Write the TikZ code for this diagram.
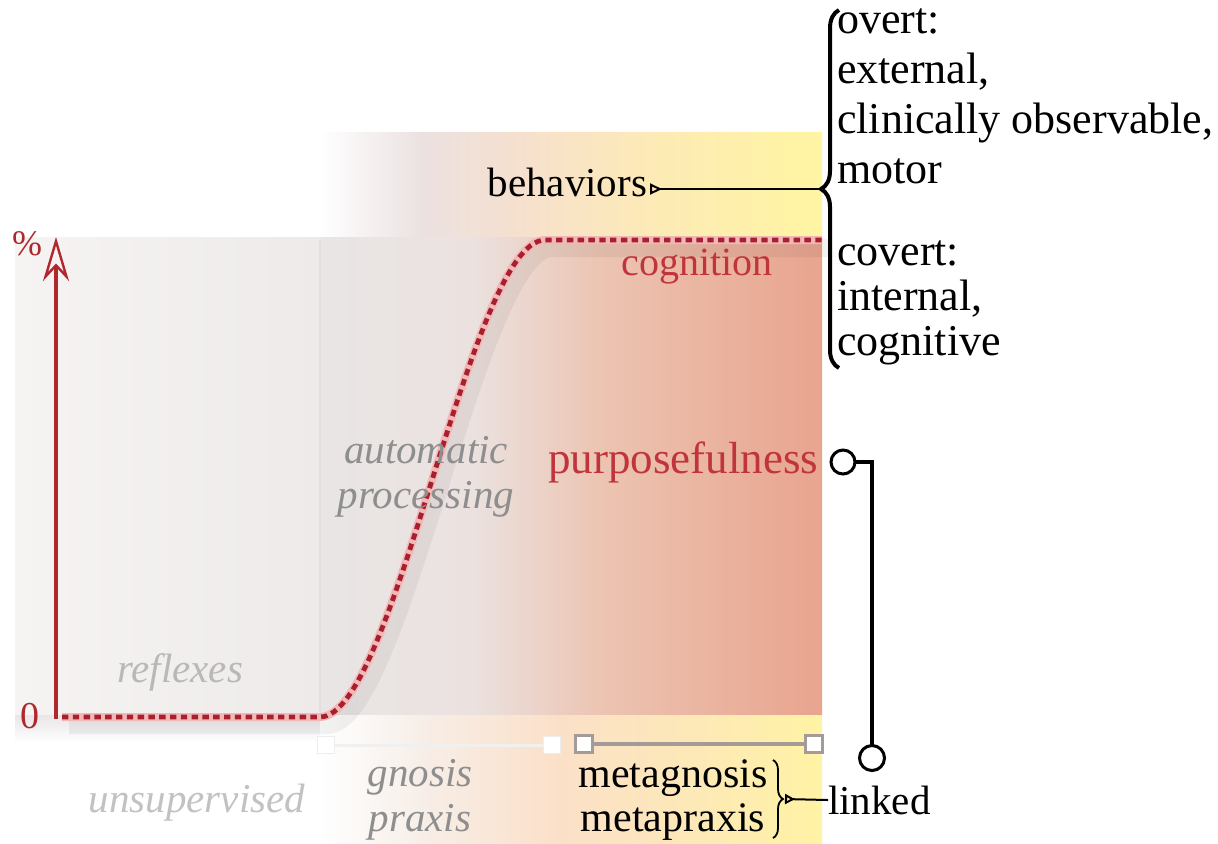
\documentclass[tikz,border=0pt]{standalone}
\usepackage{fontspec}
\setmainfont{Liberation Serif}
\usetikzlibrary{arrows.meta,decorations.pathreplacing,calc}
\definecolor{axisred}{HTML}{B0282E}
\definecolor{curvered}{HTML}{A8202E}
\definecolor{glowpink}{HTML}{F2B8B8}
\definecolor{txtred}{HTML}{C0343C}
\definecolor{grayit}{HTML}{8E8E8E}
\definecolor{lightit}{HTML}{B8B8B8}
\definecolor{slidergray}{HTML}{A39B98}
\begin{document}
\begin{tikzpicture}[x=0.5pt,y=-0.5pt,
  every node/.style={inner sep=0pt, outer sep=0pt},
  txt/.style={font=\fontsize{20.5}{24}\selectfont},
  grayital/.style={font=\fontsize{20.5}{22.5}\selectfont\itshape, text=grayit, align=center},
  redlbl/.style={font=\fontsize{20.5}{24}\selectfont, text=txtred},
  curvestroke/.style={line width=2.4pt, curvered, dash pattern=on 3.2pt off 2.2pt},
  curveglow/.style={line width=4pt, glowpink},
  curveshadow/.style={line width=9pt, black, opacity=0.05},
  connector/.style={line width=1pt, black},
  linkline/.style={line width=2.2pt, black},
  ring/.style={circle, draw=black, line width=1.5pt, fill=white, minimum size=12pt},
  wsq/.style={rectangle, fill=white, draw=white!93!black, line width=0.6pt, minimum size=8.5pt},
  gsq/.style={rectangle, fill=white, draw=slidergray, line width=1.1pt, minimum size=8.5pt},
  bigbrace/.style={decorate, decoration={brace, amplitude=9pt}, line width=2pt},
  smallbrace/.style={decorate, decoration={brace, amplitude=5pt}, line width=0.9pt}
]
\useasboundingbox (0,0) rectangle (1218,843);
\fill[white] (0,0) rectangle (1218,843);

% ---------- background bands ----------
% top band
\fill[left color=white, right color=white!92!black!96!red] (320,132) rectangle (421,237);
\fill[left color=white!92!black!96!red, right color={rgb,255:red,246;green,224;blue,206}] (420,132) rectangle (521,237);
\fill[left color={rgb,255:red,246;green,224;blue,206}, right color={rgb,255:red,253;green,234;blue,182}] (520,132) rectangle (651,237);
\fill[left color={rgb,255:red,253;green,234;blue,182}, right color={rgb,255:red,255;green,245;blue,162}] (650,132) rectangle (822,237);
% chart area
\fill[left color={rgb,255:red,246;green,243;blue,243}, right color={rgb,255:red,238;green,234;blue,234}] (15,237) rectangle (321,715);
\fill[left color={rgb,255:red,233;green,229;blue,229}, right color={rgb,255:red,235;green,226;blue,224}] (320,237) rectangle (471,715);
\fill[left color={rgb,255:red,235;green,226;blue,224}, right color={rgb,255:red,236;green,196;blue,178}] (470,237) rectangle (601,715);
\fill[left color={rgb,255:red,236;green,196;blue,178}, right color={rgb,255:red,232;green,164;blue,142}] (600,237) rectangle (822,715);
\draw[line width=0.8pt, white!88!black] (320,240) -- (320,712);
% shadow under chart, left part
\fill[top color={rgb,255:red,232;green,230;blue,230}, bottom color=white] (15,715) rectangle (321,742);
% bottom band
\fill[left color=white, right color={rgb,255:red,247;green,238;blue,232}] (320,715) rectangle (421,843);
\fill[left color={rgb,255:red,247;green,238;blue,232}, right color={rgb,255:red,251;green,224;blue,200}] (420,715) rectangle (561,843);
\fill[left color={rgb,255:red,251;green,224;blue,200}, right color={rgb,255:red,253;green,233;blue,182}] (560,715) rectangle (701,843);
\fill[left color={rgb,255:red,253;green,233;blue,182}, right color={rgb,255:red,255;green,243;blue,164}] (700,715) rectangle (822,843);

% ---------- curve ----------
\begin{scope}[shift={(7,8)}]
\draw[curveshadow] (62,717) -- (320,717) .. controls (395,717) and (470,240) .. (545,240) -- (822,240);
\end{scope}
\draw[curveglow] (62,717) -- (320,717) .. controls (395,717) and (470,240) .. (545,240) -- (822,240);
\draw[curvestroke] (62,717) -- (320,717) .. controls (395,717) and (470,240) .. (545,240) -- (822,240);

% ---------- axis ----------
\coordinate (ax0) at (56,719);
\coordinate (ax1) at (56,237);
\draw[line width=2pt, axisred, -{Stealth[open, length=22pt, width=13pt, inset=7pt, line width=1.2pt]}] (ax0) -- (ax1);
\node[font=\fontsize{18}{20}\selectfont, text=axisred] (pct) at (27,244) {\%};
\node[font=\fontsize{19}{20}\selectfont, text=axisred] (zero) at (30,716) {0};

% ---------- region labels ----------
\node[grayital, text=lightit] (refl) at (180,672) {reflexes};
\node[grayital] (auto) at (426,477) {automatic\\processing};
\node[redlbl, font=\fontsize{20}{24}\selectfont] (cog) at (697,267) {cognition};
\node[redlbl, anchor=east, font=\fontsize{22.5}{24}\selectfont] (purp) at (818,462) {purposefulness};

% ---------- bottom sliders ----------
\node[wsq] (w1) at (326,745) {};
\node[wsq] (w2) at (552,745) {};
\draw[line width=1.5pt, white!94!black] (w1) -- (w2);
\node[gsq] (g1) at (584,744) {};
\node[gsq] (g2) at (814,744) {};
\draw[line width=2.2pt, slidergray] (g1) -- (g2);

\node[grayital, text=white!76!black] (unsup) at (197,803) {unsupervised};
\node[grayital] (gp) at (420,800) {gnosis\\praxis};
\node[txt, align=center, font=\fontsize{21}{22}\selectfont] (meta) at (673,800) {metagnosis\\metapraxis};
\draw[smallbrace] (773,760) -- (773,838);
\coordinate (lbt) at (785,799);
\node[txt, anchor=west] (linked) at (828,800) {linked};
\draw[connector, {Triangle[open, reversed, length=5pt, width=5pt]}-] (lbt) -- (linked.west);

% ---------- behaviors + right brace ----------
\node[txt, anchor=base east] (beh) at (647,196) {behaviors};
\draw[bigbrace] (839,368) -- (839,10);
\coordinate (bt) at (821,189);
\draw[connector, {Triangle[open, reversed, length=6pt, width=5.5pt]}-] (beh.east |- bt) ++(3,0) -- (bt);
\node[align=left, anchor=north west, font=\fontsize{22}{25}\selectfont] (overt) at (837,9) {overt:\\external,\\clinically observable,\\motor};
\node[align=left, anchor=north west, font=\fontsize{22}{22.5}\selectfont] (covert) at (837,241) {covert:\\internal,\\cognitive};

% ---------- purposefulness link ----------
\node[ring] (r1) at (843,462) {};
\node[ring, minimum size=12.5pt] (r2) at (872,758) {};
\draw[linkline] (r1.east) -- (r1.east -| r2) -- (r2.north);
\end{tikzpicture}
\end{document}
